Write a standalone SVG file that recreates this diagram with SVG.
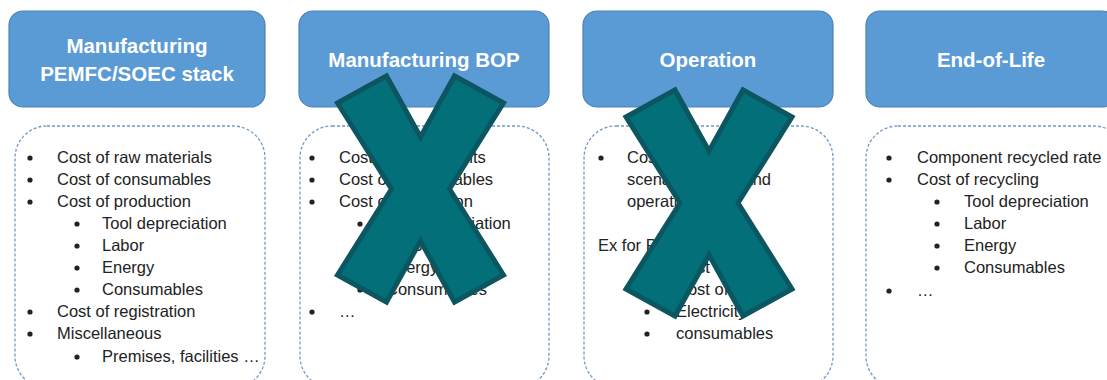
<svg xmlns="http://www.w3.org/2000/svg" xmlns:xlink="http://www.w3.org/1999/xlink" width="1107" height="380" viewBox="0 0 1107 380">
  <style>
    .head { fill: #5b9bd5; stroke: #4a84ba; stroke-width: 1.2; }
    .head-text { font-family: "Liberation Sans", Arial, sans-serif; font-weight: bold; font-size: 20.5px; fill: #ffffff; text-anchor: middle; }
    .body { fill: #ffffff; stroke: #7098c6; stroke-width: 1.3; stroke-dasharray: 3 2; }
    .item { font-family: "Liberation Sans", Arial, sans-serif; font-size: 16.5px; fill: #222222; }
    .dot { fill: #222222; }
    .cross { fill: #037079; stroke: #0b5660; stroke-width: 5; stroke-linejoin: miter; }
  </style>
  <defs>
    <polygon id="cross-shape" points="-83,-86 -34,-113 0,-52 34,-113 83,-86 29,0 83,86 34,113 0,52 -34,113 -83,86 -29,0"/>
  </defs>

  <rect width="1107" height="380" fill="#ffffff"/>

  <!-- Manufacturing stack -->
  <g id="stack">
    <rect class="head" x="9" y="11" width="256" height="96" rx="14"/>
    <text class="head-text" x="137" y="53">Manufacturing</text>
    <text class="head-text" x="137" y="81">PEMFC/SOEC stack</text>
    <rect class="body" x="15" y="126" width="250" height="262" rx="32"/>
    <g class="item">
      <text x="57" y="163">Cost of raw materials</text>
      <text x="57" y="185">Cost of consumables</text>
      <text x="57" y="207">Cost of production</text>
      <text x="102" y="229">Tool depreciation</text>
      <text x="102" y="251">Labor</text>
      <text x="102" y="273">Energy</text>
      <text x="102" y="295">Consumables</text>
      <text x="57" y="317">Cost of registration</text>
      <text x="57" y="339">Miscellaneous</text>
      <text x="102" y="362">Premises, facilities …</text>
    </g>
    <g class="dot">
      <circle cx="30" cy="158" r="2.6"/>
      <circle cx="30" cy="180" r="2.6"/>
      <circle cx="30" cy="202" r="2.6"/>
      <circle cx="77" cy="224" r="2.6"/>
      <circle cx="77" cy="246" r="2.6"/>
      <circle cx="77" cy="268" r="2.6"/>
      <circle cx="77" cy="290" r="2.6"/>
      <circle cx="30" cy="312" r="2.6"/>
      <circle cx="30" cy="334" r="2.6"/>
      <circle cx="77" cy="357" r="2.6"/>
    </g>
  </g>

  <!-- Manufacturing BOP -->
  <g id="bop">
    <rect class="head" x="299" y="11" width="250" height="96" rx="14"/>
    <text class="head-text" x="424" y="67">Manufacturing BOP</text>
    <rect class="body" x="300" y="126" width="249" height="262" rx="32"/>
    <g class="item">
      <text x="339" y="163">Cost of components</text>
      <text x="339" y="185">Cost of consumables</text>
      <text x="339" y="207">Cost of production</text>
      <text x="386" y="229">Tool depreciation</text>
      <text x="386" y="251">Labor</text>
      <text x="386" y="273">Energy</text>
      <text x="386" y="295">Consumables</text>
      <text x="339" y="317">…</text>
    </g>
    <g class="dot">
      <circle cx="312" cy="158" r="2.6"/>
      <circle cx="312" cy="180" r="2.6"/>
      <circle cx="312" cy="202" r="2.6"/>
      <circle cx="360" cy="224" r="2.6"/>
      <circle cx="360" cy="246" r="2.6"/>
      <circle cx="360" cy="268" r="2.6"/>
      <circle cx="360" cy="290" r="2.6"/>
      <circle cx="312" cy="312" r="2.6"/>
    </g>
  </g>

  <!-- Operation -->
  <g id="operation">
    <rect class="head" x="583" y="11" width="250" height="96" rx="14"/>
    <text class="head-text" x="708" y="67">Operation</text>
    <rect class="body" x="584" y="126" width="249" height="262" rx="32"/>
    <g class="item">
      <text x="627" y="163">Cost of the</text>
      <text x="627" y="185">scenario of use and</text>
      <text x="627" y="207">operation</text>
      <text x="598" y="251">Ex for PEMFC:</text>
      <text x="676" y="273">Cost of H2</text>
      <text x="676" y="295">Cost of water</text>
      <text x="676" y="317">Electricity</text>
      <text x="676" y="339">consumables</text>
    </g>
    <g class="dot">
      <circle cx="601" cy="158" r="2.6"/>
      <circle cx="647" cy="268" r="2.6"/>
      <circle cx="647" cy="290" r="2.6"/>
      <circle cx="647" cy="312" r="2.6"/>
      <circle cx="647" cy="334" r="2.6"/>
    </g>
  </g>

  <!-- End-of-Life -->
  <g id="end-of-life">
    <rect class="head" x="866" y="11" width="250" height="96" rx="14"/>
    <text class="head-text" x="991" y="67">End-of-Life</text>
    <rect class="body" x="866" y="126" width="260" height="262" rx="32"/>
    <g class="item">
      <text x="917" y="163">Component recycled rate</text>
      <text x="917" y="185">Cost of recycling</text>
      <text x="964" y="207">Tool depreciation</text>
      <text x="964" y="229">Labor</text>
      <text x="964" y="251">Energy</text>
      <text x="964" y="273">Consumables</text>
      <text x="917" y="296">…</text>
    </g>
    <g class="dot">
      <circle cx="889" cy="158" r="2.6"/>
      <circle cx="889" cy="180" r="2.6"/>
      <circle cx="937" cy="202" r="2.6"/>
      <circle cx="937" cy="224" r="2.6"/>
      <circle cx="937" cy="246" r="2.6"/>
      <circle cx="937" cy="268" r="2.6"/>
      <circle cx="889" cy="291" r="2.6"/>
    </g>
  </g>

  <!-- Strike-out crosses over the BOP and Operation columns -->
  <g id="strike-bop">
    <use xlink:href="#cross-shape" class="cross" transform="translate(420.5 189)"/>
  </g>
  <g id="strike-operation">
    <use xlink:href="#cross-shape" class="cross" transform="translate(709 203)"/>
  </g>
</svg>
